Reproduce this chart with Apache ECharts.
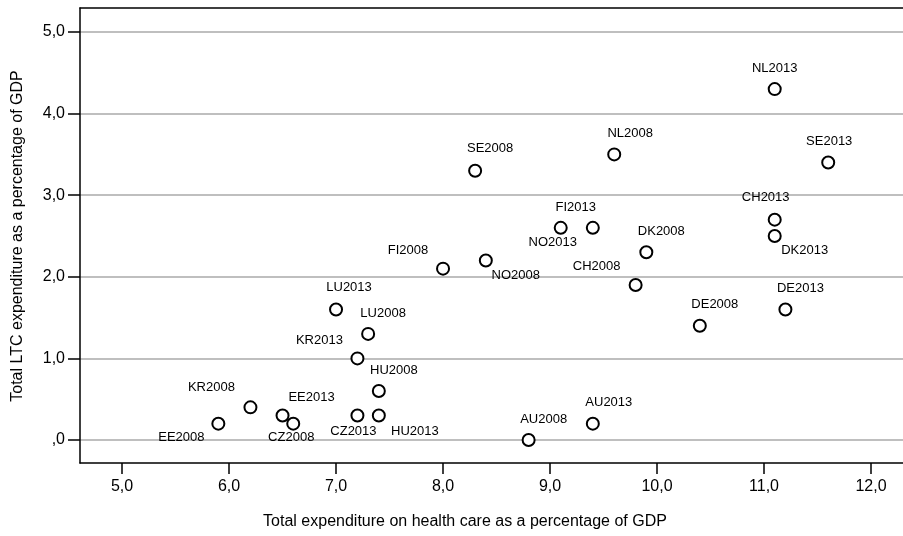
<!DOCTYPE html>
<html>
<head>
<meta charset="utf-8">
<script src="https://cdn.jsdelivr.net/npm/echarts@6/dist/echarts.min.js"></script>
<style>
html,body{margin:0;padding:0;background:#fff;}
#chart{width:903px;height:536px;}
</style>
</head>
<body>
<div id="chart"></div>
<script>
// ---- data ----
const pointLabels = ['NL2013','SE2013','NL2008','SE2008','CH2013','DK2013','FI2013','NO2013','DK2008','FI2008','NO2008','CH2008','DE2008','DE2013','LU2013','LU2008','KR2013','HU2008','HU2013','CZ2013','KR2008','EE2013','CZ2008','EE2008','AU2008','AU2013'];
const healthExp = [11.1,11.6,9.6,8.3,11.1,11.1,9.1,9.4,9.9,8.0,8.4,9.8,10.4,11.2,7.0,7.3,7.2,7.4,7.4,7.2,6.2,6.5,6.6,5.9,8.8,9.4];
const ltcExp =    [4.3,3.4,3.5,3.3,2.7,2.5,2.6,2.6,2.3,2.1,2.2,1.9,1.4,1.6,1.6,1.3,1.0,0.6,0.3,0.3,0.4,0.3,0.2,0.2,0.0,0.2];
const xTicks = [5,6,7,8,9,10,11,12];
const yTicks = [0,1,2,3,4,5];

// ---- label placement (layout only) ----
const labelOffsets = {
  NL2013:[0,-21], SE2013:[1,-21], NL2008:[16,-21], SE2008:[15,-22], CH2013:[-9,-22],
  DK2013:[30,14], FI2013:[15,-20], NO2013:[-40,15], DK2008:[15,-21], FI2008:[-35,-18],
  NO2008:[30,15], CH2008:[-39,-19], DE2008:[15,-21], DE2013:[15,-21], LU2013:[13,-22],
  LU2008:[15,-20], KR2013:[-38,-18], HU2008:[15,-21], HU2013:[36,16], CZ2013:[-4,16],
  KR2008:[-39,-20], EE2013:[29,-18], CZ2008:[-2,14], EE2008:[-37,14], AU2008:[15,-21], AU2013:[16,-21]
};

const fmt = v => {
  const s = Number(v).toFixed(1).replace('.', ',');
  return s.startsWith('0,') ? s.slice(1) : s;
};

const FONT = '"Liberation Sans", Arial, sans-serif';
const chart = echarts.init(document.getElementById('chart'), null, {renderer:'canvas'});
const data = pointLabels.map((n,i)=>({name:n, value:[healthExp[i], ltcExp[i]]}));

chart.setOption({
  animation:false,
  backgroundColor:'#fff',
  grid:{left:80, right:0, top:8, bottom:73},
  xAxis:[{
    type:'value', min:4.607, max:12.299,
    axisLine:{show:true, onZero:false, lineStyle:{color:'#000', width:1.5}},
    axisTick:{show:true, length:11, customValues:xTicks, lineStyle:{color:'#000', width:1.5}},
    axisLabel:{customValues:xTicks, formatter:fmt, color:'#000', fontSize:16, fontFamily:FONT, margin:16},
    splitLine:{show:false}
  },{
    type:'value', position:'top', min:4.607, max:12.299,
    axisLine:{show:true, onZero:false, lineStyle:{color:'#000', width:1.5}},
    axisTick:{show:false}, axisLabel:{show:false}, splitLine:{show:false}
  }],
  yAxis:{
    type:'value', min:-0.282, max:5.294,
    axisLine:{show:true, onZero:false, lineStyle:{color:'#000', width:1.5}},
    axisTick:{show:true, length:12, customValues:yTicks, lineStyle:{color:'#000', width:1.5}},
    axisLabel:{customValues:yTicks, formatter:fmt, color:'#000', fontSize:16, fontFamily:FONT, margin:15},
    splitLine:{show:true, lineStyle:{color:'#aaaaaa', width:1.5}}
  },
  graphic:[
    {type:'text', x:465, y:522, style:{text:'Total expenditure on health care as a percentage of GDP', fill:'#000', font:'16px '+FONT, align:'center', verticalAlign:'middle'}},
    {type:'text', x:18, y:236, rotation:Math.PI/2, style:{text:'Total LTC expenditure as a percentage of GDP', fill:'#000', font:'16px '+FONT, align:'center', verticalAlign:'middle'}}
  ],
  series:[{
    type:'scatter',
    xAxisIndex:0,
    data:data,
    symbol:'emptyCircle',
    symbolSize:12,
    itemStyle:{color:'#000', borderColor:'#000', borderWidth:1.6, opacity:1},
    label:{show:true, position:'inside', formatter:p=>p.name, color:'#000', fontSize:13, fontFamily:FONT},
    labelLayout:function(p){
      const o = labelOffsets[pointLabels[p.dataIndex]];
      return {dx:o[0], dy:o[1]};
    },
    emphasis:{disabled:true}
  }]
});
</script>
</body>
</html>
